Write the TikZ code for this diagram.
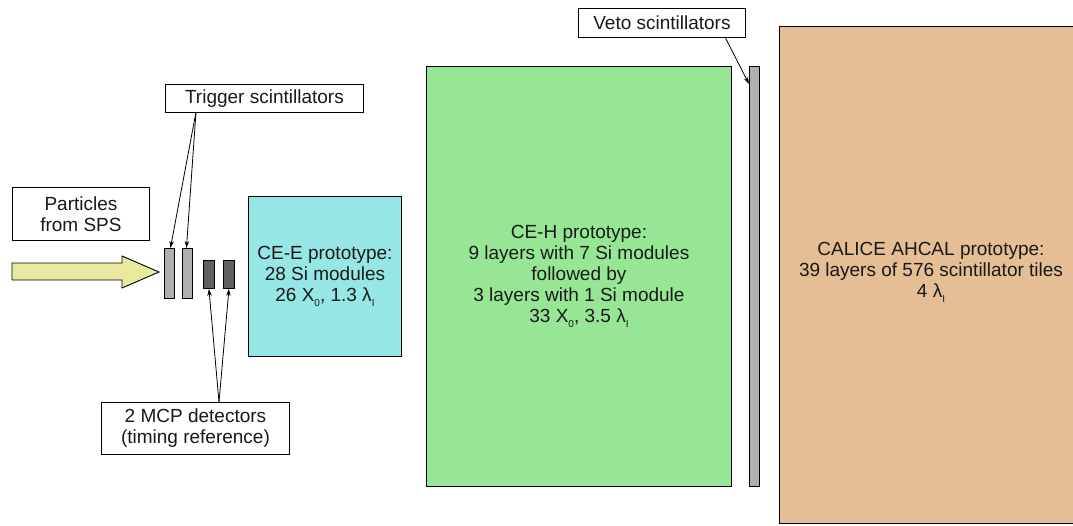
\documentclass[tikz,border=0pt]{standalone}
\usepackage{fontspec}
\setmainfont{Liberation Sans}
\usetikzlibrary{arrows.meta}
\definecolor{ceecol}{RGB}{150,230,230}
\definecolor{cehcol}{RGB}{150,230,150}
\definecolor{calcol}{RGB}{230,190,150}
\definecolor{beamcol}{RGB}{232,232,158}
\definecolor{trigcol}{RGB}{175,175,175}
\definecolor{mcpcol}{RGB}{95,95,95}
\definecolor{txtcol}{RGB}{25,25,25}
\tikzset{
  lbl/.style={draw=black, line width=0.9pt, fill=white, inner sep=0pt, align=center, text=txtcol, font=\fontsize{19}{21}\selectfont, anchor=north west},
  det/.style={draw=black, line width=0.9pt, inner sep=0pt, anchor=north west},
  dtext/.style={text=txtcol, font=\fontsize{19}{21}\selectfont, align=center},
  bar/.style={draw=black, line width=0.9pt, inner sep=0pt, anchor=north west},
  ptr/.style={line width=0.8pt, -{Stealth[length=7pt,width=4.5pt]}},
}
\newcommand{\sbs}[1]{\raisebox{-0.5ex}{\fontsize{10}{10}\selectfont #1}}
\begin{document}
\begin{tikzpicture}[x=1pt,y=-1pt]
\clip (0,0) rectangle (1073,525);
\fill[white] (0,0) rectangle (1073,525);
% detectors
\node[det, fill=ceecol, minimum width=153pt, minimum height=160pt] (cee) at (248,196) {};
\node[dtext] (ceet) at (cee.center) {CE-E prototype:\\28 Si modules\\26 X\sbs{0}, 1.3 λ\sbs{I}};
\node[det, fill=cehcol, minimum width=305pt, minimum height=420pt] (ceh) at (426,66) {};
\node[dtext] (ceht) at (ceh.center) {CE-H prototype:\\9 layers with 7 Si modules\\followed by\\3 layers with 1 Si module\\33 X\sbs{0}, 3.5 λ\sbs{I}};
\node[det, fill=calcol, minimum width=310pt, minimum height=497pt] (cal) at (779,26) {};
\node[dtext] (calt) at (931,272) {CALICE AHCAL prototype:\\39 layers of 576 scintillator tiles\\4 λ\sbs{I}};
% veto
\node[bar, fill=trigcol, minimum width=10pt, minimum height=420pt] (veto) at (749,66) {};
% trigger scintillators
\node[bar, fill=trigcol, minimum width=10pt, minimum height=50pt] (t1) at (164,248) {};
\node[bar, fill=trigcol, minimum width=10pt, minimum height=50pt] (t2) at (182,248) {};
% MCPs
\node[bar, fill=mcpcol, minimum width=11pt, minimum height=28pt] (m1) at (203,260) {};
\node[bar, fill=mcpcol, minimum width=11pt, minimum height=28pt] (m2) at (223,260) {};
% beam arrow
\draw[line width=0.9pt, fill=beamcol] (12,263) -- (122,263) -- (122,256) -- (159,272) -- (122,288) -- (122,280) -- (12,280) -- cycle;
% labels
\node[lbl, minimum width=137pt, minimum height=53pt] (sps) at (12,187) {Particles\\from SPS};
\node[lbl, minimum width=198pt, minimum height=28pt] (trig) at (165,84) {Trigger scintillators};
\node[lbl, minimum width=188pt, minimum height=52pt] (mcp) at (101,402) {2 MCP detectors\\(timing reference)};
\node[lbl, minimum width=167pt, minimum height=29pt] (vetol) at (578,8) {Veto scintillators};
% pointers
\coordinate (tr) at (196,112);
\draw[ptr] (tr) -- ([xshift=1pt]t1.north);
\draw[ptr] (tr) -- ([xshift=-1pt]t2.north);
\coordinate (mc) at (219,402);
\draw[ptr] (mc) -- (m1.south);
\draw[ptr] (mc) -- (m2.south);
\coordinate (vc) at (725,37);
\draw[ptr] (vc) -- ([yshift=-18pt]veto.north west);
\end{tikzpicture}
\end{document}
